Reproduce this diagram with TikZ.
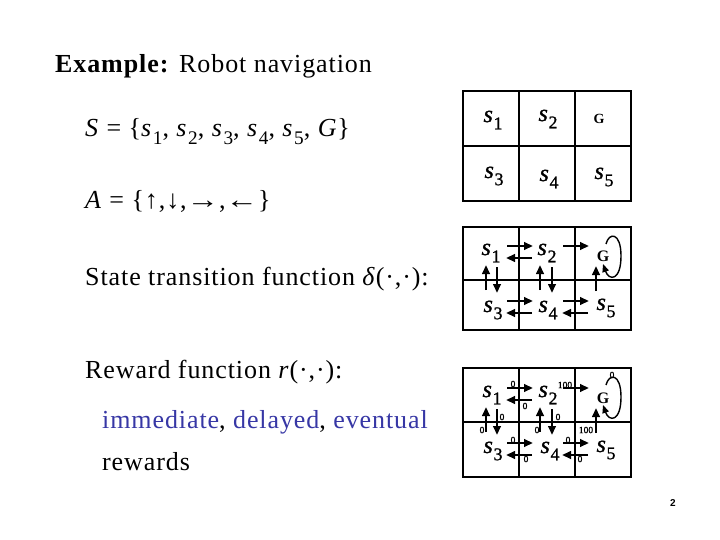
\documentclass[tikz,border=0pt]{standalone}
\usepackage{fontspec}
\usepackage{graphicx}
\setmainfont{Liberation Serif}
\newfontfamily\wide[LetterSpace=3.5]{Liberation Serif}
\newfontfamily\heavy[FakeBold=1.2]{Liberation Serif}
\newfontfamily\pgsans{Liberation Sans}
\usetikzlibrary{arrows.meta}
\definecolor{tblue}{RGB}{55,55,165}
\newcommand\sv[1]{\textit{s}\kern0.03em\raisebox{-0.3em}{\scalebox{0.74}{#1}}}
\newcommand\hw[1]{\scalebox{1.25}[1]{#1}}
\begin{document}
\begin{tikzpicture}[x=1pt,y=-1pt,
  txt/.style={anchor=base west, inner sep=0pt, font=\wide\fontsize{26}{30}\selectfont},
  mtxt/.style={anchor=base west, inner sep=0pt, font=\wide\fontsize{26}{30}\selectfont},
  gridline/.style={line width=1.3pt},
  act/.style={line width=2.4pt, -{Triangle[length=9pt,width=7.5pt]}},
  st/.style={inner sep=0pt, font=\heavy\fontsize{24}{26}\selectfont},
  goal/.style={inner sep=0pt, font=\fontsize{16}{18}\selectfont\bfseries},
  rw/.style={inner sep=0pt, font=\heavy\fontsize{9.5}{10}\selectfont},
]
\useasboundingbox (0,0) rectangle (720,540);

% ---- left texts
\node[txt] (title) at (55,73) {\textbf{Example:} Robot navigation};
\node[mtxt] (sset) at (85,137) {\textit{S} = \{\sv1, \sv2, \sv3, \sv4, \sv5, \textit{G}\}};
\node[mtxt] (aset) at (85,208) {\textit{A} = \{↑,↓,\hw{→},\hw{←}\}};
\node[txt] (trans) at (85,285) {State transition function \textit{δ}(·,·):};
\node[txt] (rew) at (85,378) {Reward function \textit{r}(·,·):};
\node[txt] (kinds) at (102,428) {\textcolor{tblue}{immediate}, \textcolor{tblue}{delayed}, \textcolor{tblue}{eventual}};
\node[txt] (rwds) at (102,470) {rewards};
\node[inner sep=0pt, font=\pgsans\fontsize{10}{11}\selectfont\bfseries] (pg) at (673,503) {2};

% ---- grids
\foreach \t/\m/\b in {91/146/201, 227/280/330, 368/422/477}{
  \draw[gridline] (463,\t) rectangle (631,\b);
  \draw[gridline] (463,\m) -- (631,\m);
  \draw[gridline] (519,\t) -- (519,\b);
  \draw[gridline] (575,\t) -- (575,\b);
}

% ---- grid 1 labels
\node[st] (a1) at (493,120) {\sv1};
\node[st] (a2) at (548,119) {\sv2};
\node[goal, font=\fontsize{14}{15}\selectfont\bfseries] (a6) at (599,119) {G};
\node[st] (a3) at (494,176) {\sv3};
\node[st] (a4) at (549,179) {\sv4};
\node[st] (a5) at (604,177) {\sv5};

% ---- grid 2 labels
\node[st] (b1) at (491,253) {\sv1};
\node[st] (b2) at (547,253) {\sv2};
\node[goal] (b6) at (603,256) {G};
\node[st] (b3) at (493,310) {\sv3};
\node[st] (b4) at (548,310) {\sv4};
\node[st] (b5) at (606,308) {\sv5};

% ---- grid 3 labels
\node[st] (c1) at (492,395) {\sv1};
\node[st] (c2) at (548,395) {\sv2};
\node[goal] (c6) at (603,398) {G};
\node[st] (c3) at (493,451) {\sv3};
\node[st] (c4) at (550,451) {\sv4};
\node[st] (c5) at (606,450) {\sv5};

% ---- action arrows (grids 2 and 3)
\foreach \n/\xa/\ya/\xb/\yb in {
  r12/507/246/533/246, l21/532/258/506/258, r2g/563/246/589/246,
  u31/486/290/486/265, d13/497/267/497/293,
  u42/540/290/540/265, d24/552/267/552/293,
  u5g/596/291/596/266,
  r34/507/301/533/301, l43/532/313/506/313,
  r45/563/301/589/301, l54/588/313/562/313}{
  \foreach \g/\dy in {b/0, c/142}{
    \coordinate (\g\n s) at (\xa,\ya+\dy);
    \coordinate (\g\n e) at (\xb,\yb+\dy);
    \draw[act] (\g\n s) -- (\g\n e);
  }
}
% self loops at G
\foreach \g/\dy in {b/0, c/141}{
  \coordinate (\g ls) at (606,244+\dy);
  \coordinate (\g le) at (603,264+\dy);
  \draw[line width=1.4pt, -{Triangle[length=8pt,width=6.5pt]}]
    (\g ls) .. controls (609,232+\dy) and (621,232+\dy) .. (621,256+\dy)
    .. controls (621,281+\dy) and (609,281+\dy) .. (\g le);
}

% ---- rewards (grid 3)
\node[rw] (w1) at (513,384) {0};
\node[rw] (w2) at (525,406) {0};
\node[rw] (w3) at (565,385) {100};
\node[rw] (w4) at (612,375) {0};
\node[rw] (w5) at (482,430) {0};
\node[rw] (w6) at (502,417) {0};
\node[rw] (w7) at (537,430) {0};
\node[rw] (w8) at (558,417) {0};
\node[rw] (w9) at (586,430) {100};
\node[rw] (w10) at (513,440) {0};
\node[rw] (w11) at (526,459) {0};
\node[rw] (w12) at (568,440) {0};
\node[rw] (w13) at (580,459) {0};
\end{tikzpicture}
\end{document}
